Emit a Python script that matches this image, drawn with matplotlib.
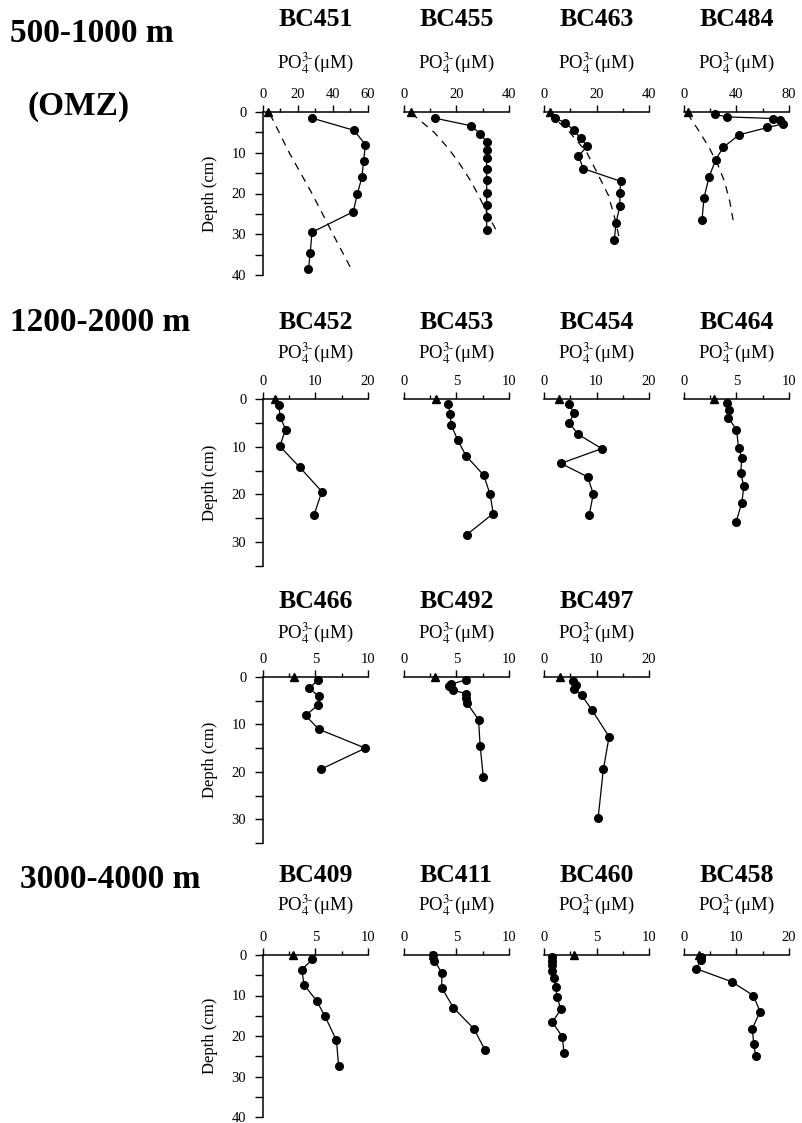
import numpy as np
import matplotlib.pyplot as plt
from matplotlib.ticker import MultipleLocator

plt.rcParams['font.family'] = ['Liberation Serif', 'DejaVu Serif']
plt.rcParams['mathtext.fontset'] = 'stix'

# pore water phosphate profiles, depth (cm) vs PO4 (uM)
bc451_depth = [1.5, 4.5, 8, 12, 16, 20, 24.5, 29.5, 34.5, 38.5]
bc451_po4 = [28, 52, 58.5, 57.5, 56.5, 54, 51.5, 28, 27, 26]
bc451_fit_depth = [0.5, 10, 20, 30, 39]
bc451_fit_po4 = [4, 15, 28, 40, 51]

bc455_depth = [1.5, 3.4, 5.3, 7.3, 9.4, 11.4, 13.9, 16.7, 19.8, 22.7, 25.7, 29.0]
bc455_po4 = [11.7, 25.7, 28.9, 31.5, 31.5, 31.5, 31.5, 31.5, 31.5, 31.5, 31.5, 31.5]
bc455_fit_depth = [0.3, 2, 5, 9, 13, 17, 21, 25, 29.5]
bc455_fit_po4 = [2.8, 6, 11.5, 17, 21.5, 25.5, 28.8, 31.8, 35.5]

bc463_depth = [1.5, 2.6, 4.5, 6.5, 8.4, 10.8, 13.9, 17, 19.8, 23.1, 27.3, 31.4]
bc463_po4 = [4.2, 8, 11.4, 14, 16.5, 13.1, 15, 29.2, 28.9, 28.9, 27.4, 26.8]
bc463_fit_depth = [0.4, 4.1, 9.8, 15.5, 20.4, 26.1, 31]
bc463_fit_po4 = [1.6, 8.6, 16.2, 20.7, 24.5, 27, 28.7]

bc484_depth = [0.6, 1.2, 1.6, 2.0, 2.9, 3.8, 5.6, 8.7, 11.7, 15.9, 21, 26.5]
bc484_po4 = [23.4, 32.8, 68, 73, 75.6, 63.6, 42, 29.8, 24.2, 19.1, 15.3, 13.7]
bc484_fit_depth = [0.3, 1.2, 4.9, 9, 13.1, 17.2, 22, 26.5]
bc484_fit_po4 = [3, 4.3, 11.9, 19.6, 26, 31, 34.9, 37.4]

bc452_depth = [1.3, 3.8, 6.4, 9.9, 14.3, 19.4, 24.4]
bc452_po4 = [3.0, 3.3, 4.3, 3.2, 7.0, 11.2, 9.7]

bc453_depth = [1.1, 3.1, 5.5, 8.5, 11.9, 16, 20, 24, 28.4]
bc453_po4 = [4.2, 4.4, 4.5, 5.1, 5.9, 7.6, 8.2, 8.5, 6.0]

bc454_depth = [1.0, 3.0, 5.0, 7.4, 10.4, 13.5, 16.3, 19.9, 24.3]
bc454_po4 = [4.8, 5.7, 4.8, 6.5, 11.0, 3.2, 8.3, 9.4, 8.6]

bc464_depth = [0.9, 2.3, 3.9, 6.4, 10.3, 12.3, 15.5, 18.3, 21.8, 25.8]
bc464_po4 = [4.1, 4.3, 4.2, 5.0, 5.2, 5.5, 5.4, 5.7, 5.5, 4.95]

bc466_depth = [0.6, 2.4, 4.0, 6.0, 8.1, 11.0, 15.0, 19.4]
bc466_po4 = [5.25, 4.4, 5.3, 5.2, 4.05, 5.3, 9.75, 5.55]

bc492_depth = [0.6, 1.5, 2.0, 2.8, 3.5, 4.5, 5.5, 9.0, 14.5, 21.0]
bc492_po4 = [5.9, 4.5, 4.3, 4.7, 5.9, 5.9, 6.0, 7.1, 7.25, 7.55]

bc497_depth = [0.85, 1.7, 2.6, 3.9, 6.9, 12.6, 19.5, 29.8]
bc497_po4 = [5.5, 6.1, 5.8, 7.2, 9.1, 12.4, 11.3, 10.3]

bc409_depth = [1.1, 3.6, 7.3, 11.3, 15.1, 21.1, 27.4]
bc409_po4 = [4.7, 3.7, 3.9, 5.1, 5.9, 7.0, 7.2]

bc411_depth = [0.0, 1.4, 4.4, 8.1, 13.0, 18.2, 23.4]
bc411_po4 = [2.8, 2.9, 3.6, 3.6, 4.7, 6.65, 7.7]

bc460_depth = [0.6, 1.4, 2.5, 3.9, 5.7, 7.8, 10.4, 13.4, 16.6, 20.2, 24.1]
bc460_po4 = [0.8, 0.8, 0.8, 0.8, 0.95, 1.1, 1.25, 1.6, 0.8, 1.75, 1.9]

bc458_depth = [0.6, 1.2, 3.4, 6.6, 10.0, 14.0, 18.2, 22.0, 25.0]
bc458_po4 = [3.3, 3.2, 2.35, 9.1, 13.2, 14.5, 13.0, 13.3, 13.65]

# bottom water values (triangles)
bw_po4 = {'BC451': 3, 'BC455': 2.5, 'BC463': 2.3, 'BC484': 3,
          'BC452': 2.2, 'BC453': 3.05, 'BC454': 2.9, 'BC464': 2.85,
          'BC466': 3.0, 'BC492': 3.0, 'BC497': 3.0,
          'BC409': 2.9, 'BC411': 2.8, 'BC460': 2.85, 'BC458': 2.9}

W, H = 803, 1123
col_x = [263, 404, 544, 684]
ax_w = 105
rows = [  # (top px, height px, ymax)
    (112, 163, 40),
    (399, 167, 35),
    (677, 166, 35),
    (955, 162, 40),
]
title_off = [92, 76, 75, 80]
label_off = [49, 46, 44, 50]

panels = [
    (0, 0, 'BC451', bc451_depth, bc451_po4, 60, 20, (bc451_fit_depth, bc451_fit_po4)),
    (0, 1, 'BC455', bc455_depth, bc455_po4, 40, 20, (bc455_fit_depth, bc455_fit_po4)),
    (0, 2, 'BC463', bc463_depth, bc463_po4, 40, 20, (bc463_fit_depth, bc463_fit_po4)),
    (0, 3, 'BC484', bc484_depth, bc484_po4, 80, 40, (bc484_fit_depth, bc484_fit_po4)),
    (1, 0, 'BC452', bc452_depth, bc452_po4, 20, 10, None),
    (1, 1, 'BC453', bc453_depth, bc453_po4, 10, 5, None),
    (1, 2, 'BC454', bc454_depth, bc454_po4, 20, 10, None),
    (1, 3, 'BC464', bc464_depth, bc464_po4, 10, 5, None),
    (2, 0, 'BC466', bc466_depth, bc466_po4, 10, 5, None),
    (2, 1, 'BC492', bc492_depth, bc492_po4, 10, 5, None),
    (2, 2, 'BC497', bc497_depth, bc497_po4, 20, 10, None),
    (3, 0, 'BC409', bc409_depth, bc409_po4, 10, 5, None),
    (3, 1, 'BC411', bc411_depth, bc411_po4, 10, 5, None),
    (3, 2, 'BC460', bc460_depth, bc460_po4, 10, 5, None),
    (3, 3, 'BC458', bc458_depth, bc458_po4, 20, 10, None),
]

fig = plt.figure(figsize=(W / 100, H / 100), dpi=100)

for r, c, name, depth, po4, xmax, xmaj, fit in panels:
    top, h, ymax = rows[r]
    x0 = col_x[c]
    ax = fig.add_axes([x0 / W, 1 - (top + h) / H, ax_w / W, h / H])
    ax.patch.set_visible(False)
    ax.plot(po4, depth, '-o', color='k', lw=0.9, ms=5.5, clip_on=False, zorder=3)
    ax.plot([bw_po4[name]], [0], '^', color='k', ms=5.5, clip_on=False, zorder=4)
    if fit is not None:
        ax.plot(fit[1], fit[0], color='k', lw=0.9, ls=(0, (6, 5)), clip_on=False)
    ax.set_xlim(0, xmax)
    ax.set_ylim(ymax, 0)
    ax.xaxis.tick_top()
    ax.xaxis.set_major_locator(MultipleLocator(xmaj))
    ax.xaxis.set_minor_locator(MultipleLocator(xmaj / 2))
    ax.tick_params(axis='x', which='major', direction='out', length=5, width=1,
                   labelsize=10.5, pad=3)
    ax.tick_params(axis='x', which='minor', direction='out', length=3, width=1)
    for s in ['bottom', 'right']:
        ax.spines[s].set_visible(False)
    ax.spines['top'].set_linewidth(1.1)
    if c == 0:
        ax.spines['left'].set_linewidth(1.1)
        ax.yaxis.set_major_locator(MultipleLocator(10))
        ax.yaxis.set_minor_locator(MultipleLocator(5))
        ax.tick_params(axis='y', which='major', direction='out', length=6, width=1,
                       labelsize=10.5, pad=6)
        ax.tick_params(axis='y', which='minor', direction='out', length=6, width=1)
        ax.set_ylabel('Depth (cm)', fontsize=12, labelpad=10)
    else:
        ax.spines['left'].set_visible(False)
        ax.set_yticks([])
    xc = (x0 + ax_w / 2) / W
    fig.text(xc, 1 - (top - title_off[r]) / H, name, ha='center', va='center',
             fontsize=18.5, fontweight='bold')
    fig.text(xc, 1 - (top - label_off[r]) / H, r'PO$_4^{3\text{-}}$(μM)',
             ha='center', va='center', fontsize=13.5)

fig.text(10 / W, 1 - 33 / H, '500-1000 m', ha='left', va='center',
         fontsize=24, fontweight='bold')
fig.text(28 / W, 1 - 106 / H, '(OMZ)', ha='left', va='center',
         fontsize=24, fontweight='bold')
fig.text(10 / W, 1 - 323 / H, '1200-2000 m', ha='left', va='center',
         fontsize=24, fontweight='bold')
fig.text(20 / W, 1 - 880 / H, '3000-4000 m', ha='left', va='center',
         fontsize=24, fontweight='bold')

fig.savefig('out.png', dpi=100)
